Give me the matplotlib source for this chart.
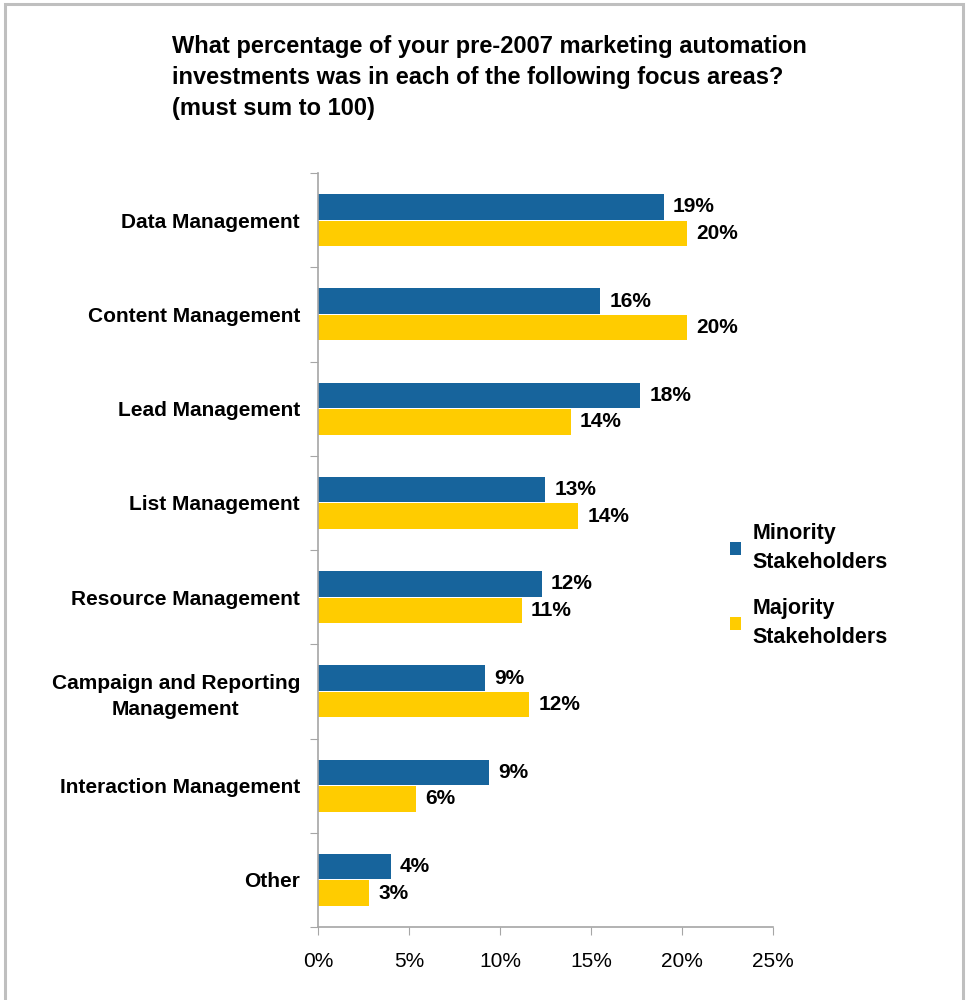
import matplotlib
matplotlib.use("Agg")
import matplotlib.pyplot as plt
from matplotlib.patches import Rectangle
import numpy as np

plt.rcParams['font.family'] = ['Liberation Sans', 'DejaVu Sans']

categories = ["Data Management", "Content Management", "Lead Management", "List Management",
              "Resource Management", "Campaign and Reporting\nManagement",
              "Interaction Management", "Other"]
minority = [19.0, 15.5, 17.7, 12.5, 12.3, 9.2, 9.4, 4.0]
majority = [20.3, 20.3, 13.9, 14.3, 11.2, 11.6, 5.4, 2.8]
minority_labels = ["19%", "16%", "18%", "13%", "12%", "9%", "9%", "4%"]
majority_labels = ["20%", "20%", "14%", "14%", "11%", "12%", "6%", "3%"]
series_names = ["Minority\nStakeholders", "Majority\nStakeholders"]
xticks = [0, 5, 10, 15, 20, 25]
xtick_labels = ["0%", "5%", "10%", "15%", "20%", "25%"]
title = ("What percentage of your pre-2007 marketing automation\n"
         "investments was in each of the following focus areas?\n"
         "(must sum to 100)")

blue = "#17649C"
yellow = "#FFCC00"
grey = "#A6A6A6"

fig = plt.figure(figsize=(9.69, 10), dpi=100)
fig.patches.append(Rectangle((0.005, -0.01), 0.989, 1.006, transform=fig.transFigure,
                             fill=False, edgecolor="#BFBFBF", linewidth=2.2))

ax = fig.add_axes([0.3282, 0.073, 0.4695, 0.754])
n = len(categories)
y = np.arange(n)
h = 0.27
gap = 0.01
ax.barh(y - h / 2 - gap / 2, minority, height=h, color=blue, label=series_names[0])
ax.barh(y + h / 2 + gap / 2, majority, height=h, color=yellow, label=series_names[1])

for i in range(n):
    ax.text(minority[i] + 0.5, y[i] - h / 2 - gap / 2, minority_labels[i], va="center",
            ha="left", fontsize=15, fontweight="bold")
    ax.text(majority[i] + 0.5, y[i] + h / 2 + gap / 2, majority_labels[i], va="center",
            ha="left", fontsize=15, fontweight="bold")

ax.set_ylim(n - 0.5, -0.5)
ax.set_xlim(0, 25)
ax.set_xticks(xticks)
ax.set_xticklabels(xtick_labels, fontsize=15)
ax.set_yticks(np.arange(-0.5, n, 1.0))
ax.set_yticklabels([])
ax.set_yticks(y, minor=True)
ax.set_yticklabels(categories, minor=True, fontsize=15, fontweight="bold", ha="right")
ax.tick_params(axis="y", which="minor", length=0, pad=13)
ax.tick_params(axis="y", which="major", length=6, color=grey, direction="out")
ax.tick_params(axis="x", length=6, color=grey, direction="out", pad=12)
for lbl in ax.get_yticklabels(minor=True):
    lbl.set_multialignment("center")
    lbl.set_linespacing(1.45)
for s in ["top", "right"]:
    ax.spines[s].set_visible(False)
for s in ["left", "bottom"]:
    ax.spines[s].set_color(grey)
    ax.spines[s].set_linewidth(1.2)

leg = fig.legend(loc="upper left", bbox_to_anchor=(0.733, 0.496), frameon=False,
                 handlelength=0.55, handleheight=0.55, handletextpad=0.5,
                 labelspacing=1.2, prop={"weight": "bold", "size": 15.5})
for t in leg.get_texts():
    t.set_linespacing(1.45)

fig.text(0.178, 0.965, title, fontsize=17, fontweight="bold", ha="left", va="top",
         linespacing=1.45)

fig.savefig("out.png", dpi=100)
